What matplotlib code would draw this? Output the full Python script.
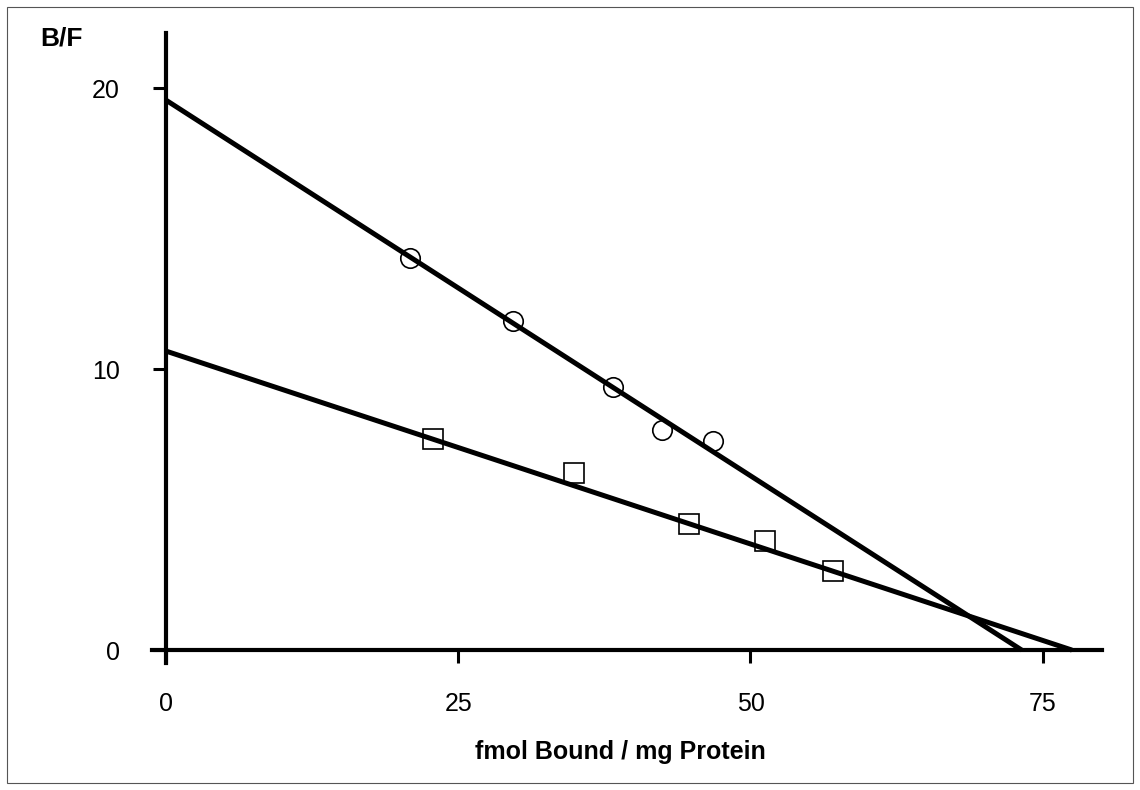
import matplotlib
matplotlib.use('Agg')
import matplotlib.pyplot as plt
from matplotlib.patches import Rectangle

plt.rcParams['font.family'] = ['Liberation Sans', 'DejaVu Sans']

# circles (upper series)
circle_x = [20.9, 29.7, 38.2, 42.4, 46.8]
circle_y = [13.95, 11.71, 9.36, 7.83, 7.44]
# squares (lower series)
square_x = [22.8, 34.9, 44.7, 51.2, 57.1]
square_y = [7.51, 6.30, 4.48, 3.88, 2.81]

# fitted lines: (y-intercept, x-intercept)
circle_fit = (19.57, 73.2)
square_fit = (10.64, 77.5)

x_ticks = [0, 25, 50, 75]
y_ticks = [0, 10, 20]

fig = plt.figure(figsize=(11.4, 7.9), dpi=100)
ax = fig.add_axes([152 / 1140, 127 / 790, 950 / 1140, 630 / 790])

for b, xi in (circle_fit, square_fit):
    ax.plot([0, xi], [b, 0], color='black', lw=3.6, solid_capstyle='butt', zorder=3)

ax.plot(circle_x, circle_y, 'o', ms=14, mfc='none', mec='black', mew=1.2, zorder=4)
ax.plot(square_x, square_y, 's', ms=14, mfc='none', mec='black', mew=1.2, zorder=4)

ax.set_xlim(-1.2, 80.07)
ax.set_ylim(-0.46, 21.96)
ax.spines['left'].set_position(('data', 0))
ax.spines['bottom'].set_position(('data', 0))
for s in ('top', 'right'):
    ax.spines[s].set_visible(False)
for s in ('left', 'bottom'):
    ax.spines[s].set_linewidth(3)

ax.set_xticks(x_ticks)
ax.set_yticks(y_ticks)
ax.tick_params(axis='both', direction='out', length=9.4, width=2.2, labelsize=18)
ax.tick_params(axis='x', pad=21)
ax.tick_params(axis='y', pad=24)

fig.text(620 / 1140, 1 - 752 / 790, 'fmol Bound / mg Protein', ha='center', va='center',
         fontsize=18, fontweight='bold')
fig.text(40 / 1140, 1 - 27 / 790, 'B/F', ha='left', va='top', fontsize=19, fontweight='bold')

fig.patches.append(Rectangle((7 / 1140, 7 / 790), 1126 / 1140, 776 / 790,
                             transform=fig.transFigure, fill=False, lw=0.8, ec='#555555'))

fig.savefig('out.png', dpi=100)
